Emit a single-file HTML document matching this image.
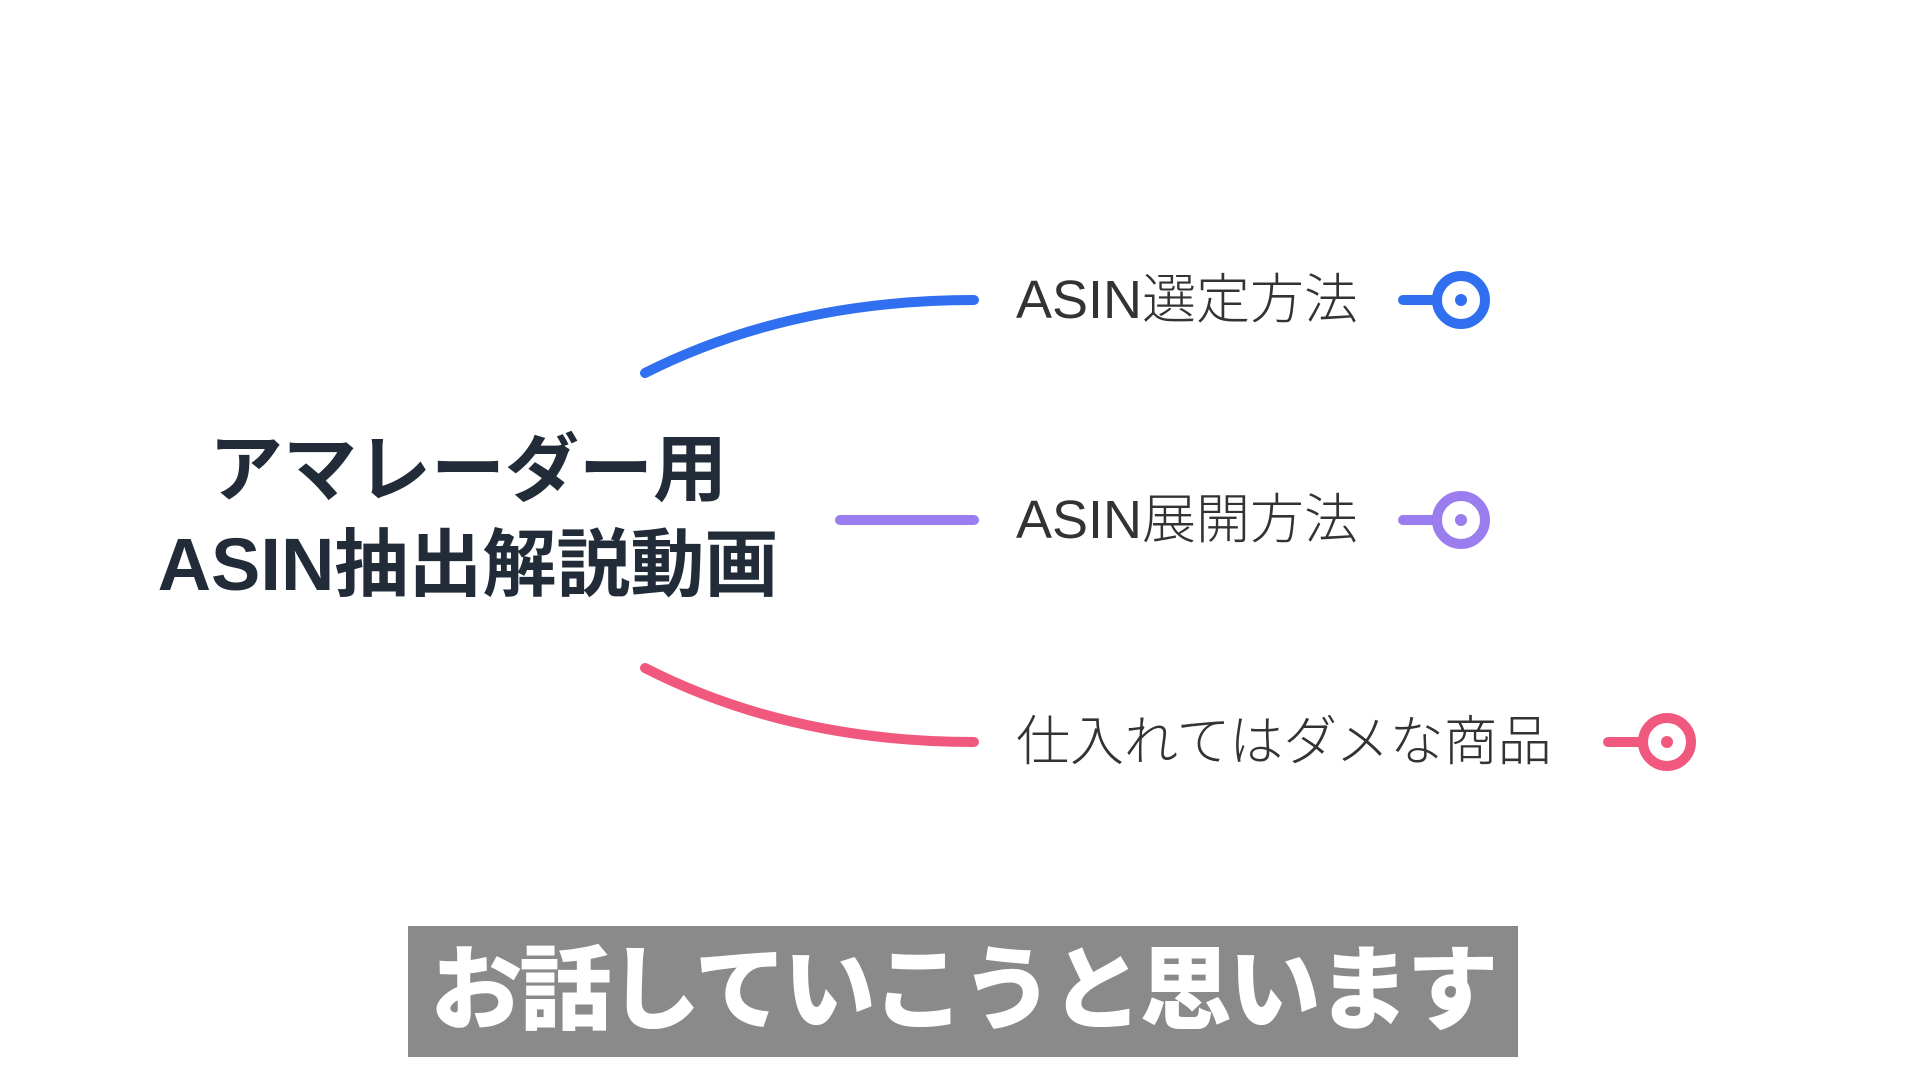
<!DOCTYPE html>
<html><head><meta charset="utf-8"><style>
body{margin:0;width:1920px;height:1080px;background:#fff;position:relative;overflow:hidden;font-family:"Liberation Sans","Noto Sans CJK JP",sans-serif}
.t{position:absolute;white-space:nowrap}
</style></head><body>
<svg width="1920" height="1080" style="position:absolute;left:0;top:0">
<path d="M645 373 Q790 300 974 300" stroke="#2f6ff0" stroke-width="10" fill="none" stroke-linecap="round"/>
<line x1="840" y1="520" x2="974" y2="520" stroke="#9b7df0" stroke-width="10" stroke-linecap="round"/>
<path d="M645 668 Q790 742 974 742" stroke="#f0587e" stroke-width="10" fill="none" stroke-linecap="round"/>
<g stroke="#2f6ff0" stroke-width="10" fill="none" stroke-linecap="round"><line x1="1403" y1="300" x2="1436" y2="300"/><circle cx="1461" cy="300" r="24"/></g><circle cx="1461" cy="300" r="6" fill="#2f6ff0"/>
<g stroke="#9b7df0" stroke-width="10" fill="none" stroke-linecap="round"><line x1="1403" y1="520" x2="1436" y2="520"/><circle cx="1461" cy="520" r="24"/></g><circle cx="1461" cy="520" r="6" fill="#9b7df0"/>
<g stroke="#f0587e" stroke-width="10" fill="none" stroke-linecap="round"><line x1="1608" y1="742" x2="1642" y2="742"/><circle cx="1667" cy="742" r="24"/></g><circle cx="1667" cy="742" r="6" fill="#f0587e"/>
</svg>
<div class="t" style="left:1016px;top:255px;font-size:54px;color:#333;font-weight:300">ASIN選定方法</div>
<div class="t" style="left:1016px;top:475px;font-size:54px;color:#333;font-weight:300">ASIN展開方法</div>
<div class="t" style="left:1016px;top:697px;font-size:54px;color:#333;font-weight:300">仕入れてはダメな商品</div>
<div class="t" style="left:118px;width:700px;top:422px;text-align:center;font-size:74px;font-weight:bold;color:#222c38;line-height:95px">アマレーダー用<br>ASIN抽出解説動画</div>
<div style="position:absolute;left:408px;top:926px;width:1110px;height:131px;background:#8a8a8a"></div>
<div class="t" style="left:408px;width:1110px;top:926px;height:131px;line-height:131px;text-align:center;font-size:92px;font-weight:900;color:#fff;letter-spacing:-3px">お話していこうと思います</div>
</body></html>
